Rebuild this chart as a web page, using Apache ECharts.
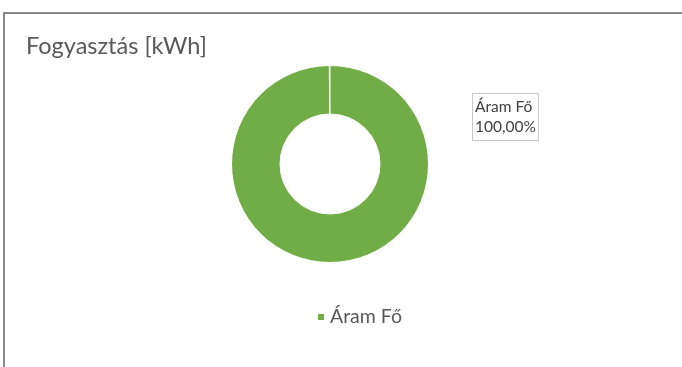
<!DOCTYPE html>
<html>
<head>
<meta charset="utf-8">
<script src="https://cdn.jsdelivr.net/npm/echarts@6/dist/echarts.min.js"></script>
<style>
  html, body { margin: 0; padding: 0; background: #ffffff; }
  #chart { width: 682px; height: 367px; }
</style>
</head>
<body>
<div id="chart"></div>
<script>
// Consumption share by meter
const chartTitle = 'Fogyasztás [kWh]';
const categories = ['Áram Fő'];
const values = [100];
const sliceColors = ['#70AD47'];

const FONT = 'Lato, "Open Sans", sans-serif';
const TEXT = '#595959';

const chart = echarts.init(document.getElementById('chart'), null, { renderer: 'canvas' });

const pieData = categories.map((name, i) => ({
  name: name,
  value: values[i],
  itemStyle: { color: sliceColors[i] }
}));

chart.setOption({
  animation: false,
  backgroundColor: '#ffffff',
  graphic: [{
    type: 'rect',
    silent: true,
    shape: { x: 4, y: 13, width: 900, height: 600 },
    style: { fill: 'none', stroke: '#898989', lineWidth: 2 }
  }],
  title: {
    text: chartTitle,
    left: 21,
    top: 29,
    textStyle: { fontFamily: FONT, fontSize: 23.5, fontWeight: 'normal', color: TEXT }
  },
  legend: {
    data: categories,
    left: 311,
    top: 302,
    icon: 'rect',
    itemWidth: 8,
    itemHeight: 8,
    itemGap: 10,
    textStyle: { fontFamily: FONT, fontSize: 19.5, color: TEXT }
  },
  series: [{
    type: 'pie',
    center: [330, 164],
    radius: [50, 98.5],
    startAngle: 90,
    endAngle: -269.6,
    clockwise: true,
    itemStyle: { borderColor: '#ffffff', borderWidth: 1 },
    emphasis: { disabled: true },
    labelLine: { show: false },
    label: {
      show: true,
      position: 'outside',
      formatter: p => p.name + '\n' + p.percent.toFixed(2).replace('.', ',') + '%',
      fontFamily: FONT,
      fontSize: 15.5,
      lineHeight: 20,
      color: '#404040',
      align: 'left',
      backgroundColor: '#ffffff',
      borderColor: '#c8c8c8',
      borderWidth: 1,
      padding: [3, 2, 3, 2]
    },
    labelLayout: { x: 473, y: 117, align: 'left', verticalAlign: 'middle' },
    data: pieData
  }]
});
</script>
</body>
</html>
